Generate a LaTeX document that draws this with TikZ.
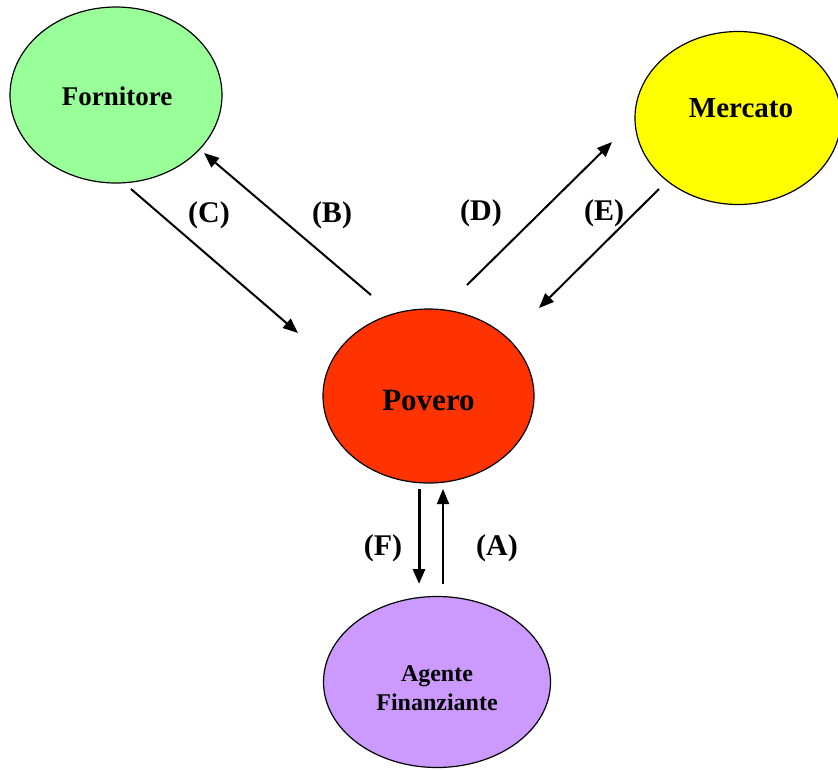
\documentclass[tikz,border=0pt]{standalone}
\usepackage{fontspec}
\setmainfont{Liberation Serif}
\usetikzlibrary{shapes.geometric,arrows.meta}
\definecolor{fgreen}{HTML}{99FF99}
\definecolor{myellow}{HTML}{FFFF00}
\definecolor{pred}{HTML}{FF3300}
\definecolor{apurple}{HTML}{CC99FF}
\begin{document}
\begin{tikzpicture}[x=1pt,y=-1pt,
  blob/.style={ellipse,draw=black,line width=1.2pt,inner sep=0pt},
  txt/.style={inner sep=0pt,align=center},
  flow/.style={line width=2pt,-{Triangle[length=15pt,width=12pt]}},
  lbl/.style={font=\bfseries\fontsize{30}{34}\selectfont,inner sep=0pt}]
\useasboundingbox (0,0) rectangle (838,769);
\node[blob,fill=fgreen,minimum width=212pt,minimum height=176pt] (forn) at (116,95) {};
\node[blob,fill=myellow,minimum width=206pt,minimum height=173pt] (merc) at (738,118) {};
\node[blob,fill=pred,minimum width=211pt,minimum height=174pt] (pov) at (428.5,396) {};
\node[blob,fill=apurple,minimum width=227pt,minimum height=171pt] (agen) at (437,682) {};
\node[txt,font=\bfseries\fontsize{27}{30}\selectfont] (tforn) at (117,96) {Fornitore};
\node[txt,font=\bfseries\fontsize{29}{32}\selectfont] (tmerc) at (741,108) {Mercato};
\node[txt,font=\bfseries\fontsize{31}{34}\selectfont] (tpov) at (428.5,400) {Povero};
\node[txt,font=\bfseries\fontsize{24}{29}\selectfont] (tagen) at (437,688) {Agente\\Finanziante};
% free ends
\coordinate (c1) at (131,189); \coordinate (c2) at (298,333);
\coordinate (b1) at (371,295); \coordinate (b2) at (204,153);
\coordinate (d1) at (467,285); \coordinate (d2) at (612,142);
\coordinate (e1) at (659,189); \coordinate (e2) at (539,308);
\coordinate (f1) at (419,489); \coordinate (f2) at (419,584);
\coordinate (a1) at (443,584); \coordinate (a2) at (443,489);
\draw[flow] (c1) -- (c2);
\draw[flow] (b1) -- (b2);
\draw[flow] (d1) -- (d2);
\draw[flow] (e1) -- (e2);
\draw[flow,line width=3pt] (f1) -- (f2);
\draw[flow] (a1) -- (a2);
\node[lbl] (lc) at (209,215) {(C)};
\node[lbl] (lb) at (332,215) {(B)};
\node[lbl] (ld) at (481,213) {(D)};
\node[lbl] (le) at (604,213) {(E)};
\node[lbl] (lf) at (383,548) {(F)};
\node[lbl] (la) at (497,548) {(A)};
\end{tikzpicture}
\end{document}
